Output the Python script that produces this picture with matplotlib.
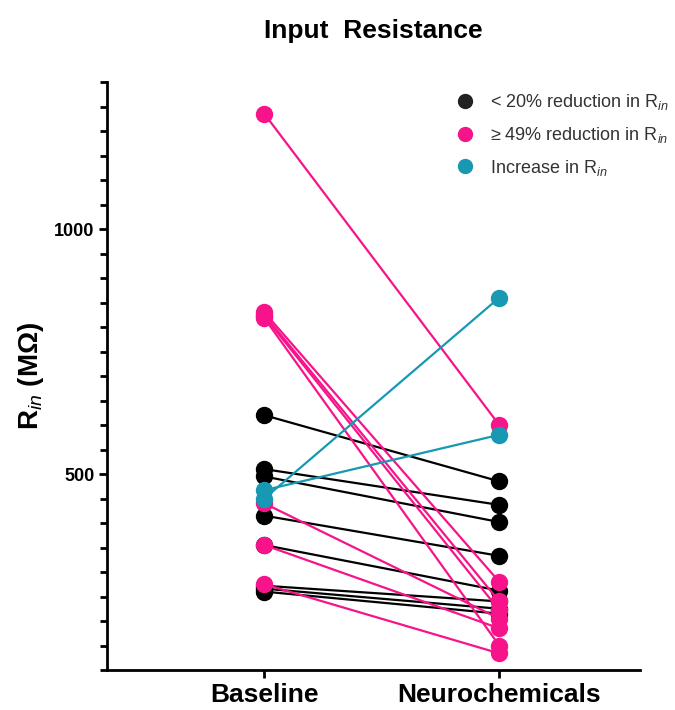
import numpy as np
import matplotlib
matplotlib.use('Agg')
import matplotlib.pyplot as plt
from matplotlib.ticker import MultipleLocator
from matplotlib.lines import Line2D

plt.rcParams['font.family'] = ['Liberation Sans', 'DejaVu Sans']
plt.rcParams['mathtext.fontset'] = 'custom'
plt.rcParams['mathtext.rm'] = 'Liberation Sans'
plt.rcParams['mathtext.it'] = 'Liberation Sans:italic'
plt.rcParams['mathtext.bf'] = 'Liberation Sans:bold'

conditions = ['Baseline', 'Neurochemicals']

# < 20% reduction
black_base = [620, 510, 495, 415, 355, 272, 266, 260]
black_neuro = [485, 437, 402, 333, 262, 240, 225, 215]

# >= 49% reduction
pink_base = [1235, 830, 825, 822, 818, 440, 355, 275]
pink_neuro = [600, 280, 240, 222, 150, 205, 185, 134]

# increase
teal_base = [450, 467]
teal_neuro = [860, 580]

c_black = '#000000'
c_pink = '#F7148A'
c_teal = '#1798B3'

fig = plt.figure(figsize=(6.75, 7.1), dpi=100)
ax = fig.add_axes([0.1585, 0.0563, 0.79, 0.8282])

x = [1, 2]
groups = [
    (black_base, black_neuro, c_black),
    (pink_base, pink_neuro, c_pink),
    (teal_base, teal_neuro, c_teal),
]
for base, neuro, c in groups:
    for b, n in zip(base, neuro):
        ax.plot(x, [b, n], '-o', color=c, lw=1.6, ms=11.5, clip_on=False, zorder=3)

ax.set_xlim(0.33, 2.6)
ax.set_ylim(100, 1300)
ax.set_xticks(x)
ax.set_xticklabels(conditions, fontsize=19, fontweight='bold')
ax.yaxis.set_minor_locator(MultipleLocator(50))
ax.set_yticks([500, 1000])
ax.set_yticklabels(['500', '1000'], fontsize=13, fontweight='bold')

for s in ['top', 'right']:
    ax.spines[s].set_visible(False)
for s in ['left', 'bottom']:
    ax.spines[s].set_linewidth(2)
ax.tick_params(axis='y', which='major', length=6, width=2, pad=3)
ax.tick_params(axis='y', which='minor', length=5, width=2)
ax.tick_params(axis='x', which='major', length=6, width=2, pad=3)

ax.set_ylabel(r'R$_{\mathit{in}}$ (MΩ)', fontsize=20, fontweight='bold', labelpad=6)
ax.set_title('Input  Resistance', fontsize=19, fontweight='bold', pad=32)

handles = [
    Line2D([], [], marker='o', ls='none', color='#222222', ms=10),
    Line2D([], [], marker='o', ls='none', color=c_pink, ms=10),
    Line2D([], [], marker='o', ls='none', color=c_teal, ms=10),
]
labels = [
    r'< 20% reduction in R$_{\mathit{in}}$',
    r'≥ 49% reduction in R$_{\mathit{in}}$',
    r'Increase in R$_{\mathit{in}}$',
]
ax.legend(handles, labels, loc='upper right', bbox_to_anchor=(1.085, 1.01), frameon=False,
          fontsize=13, handletextpad=0.4, labelspacing=0.7, labelcolor='#333333')

fig.savefig('out.png', dpi=100)
